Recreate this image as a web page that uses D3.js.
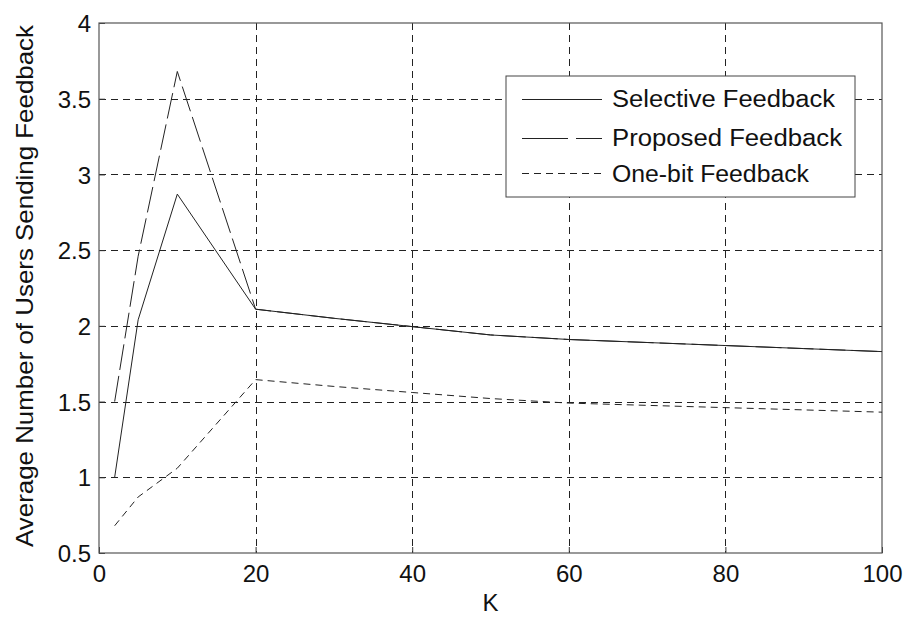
<!DOCTYPE html>
<html>
<head>
<meta charset="utf-8">
<script src="https://cdn.jsdelivr.net/npm/d3@7"></script>
<style>
  html, body { margin: 0; padding: 0; background: #fff; }
  svg { display: block; }
  text { font-family: "Liberation Sans", Arial, sans-serif; fill: #111; }
</style>
</head>
<body>
<svg id="chart" width="911" height="618"></svg>
<script>
// Number of users K
const kValues = [2, 5, 10, 20, 30, 40, 50, 60, 70, 80, 90, 100];
// Average number of users sending feedback, per scheme
const selective = [1.00, 2.04, 2.87, 2.11, 2.05, 1.995, 1.94, 1.91, 1.89, 1.87, 1.85, 1.83];
const proposed  = [1.50, 2.46, 3.68, 2.11, 2.05, 1.995, 1.94, 1.91, 1.89, 1.87, 1.85, 1.83];
const oneBit    = [0.68, 0.87, 1.06, 1.645, 1.60, 1.56, 1.52, 1.49, 1.475, 1.46, 1.445, 1.43];

const xTicks = [0, 20, 40, 60, 80, 100];
const yTicks = [0.5, 1, 1.5, 2, 2.5, 3, 3.5, 4];
const seriesNames = ["Selective Feedback", "Proposed Feedback", "One-bit Feedback"];

const svg = d3.select("#chart");
const plotL = 99, plotR = 882, plotT = 23, plotB = 553;

const x = d3.scaleLinear().domain([0, 100]).range([plotL, plotR]);
const y = d3.scaleLinear().domain([0.5, 4]).range([plotB, plotT]);

// dashed grid
const grid = svg.append("g").attr("stroke", "#222").attr("stroke-width", 1)
  .attr("stroke-dasharray", "7,5").attr("fill", "none");
grid.selectAll("line.v").data(xTicks.slice(1, -1)).join("line")
  .attr("x1", d => Math.round(x(d)) + 0.5).attr("x2", d => Math.round(x(d)) + 0.5)
  .attr("y1", plotT).attr("y2", plotB);
grid.selectAll("line.h").data(yTicks.slice(1, -1)).join("line")
  .attr("y1", d => Math.round(y(d)) + 0.5).attr("y2", d => Math.round(y(d)) + 0.5)
  .attr("x1", plotL).attr("x2", plotR);

// axes with inward ticks
const xAxis = svg.append("g").attr("transform", `translate(0,${plotB})`)
  .call(d3.axisBottom(x).tickValues(xTicks).tickSizeInner(-6).tickSizeOuter(0).tickPadding(12).tickFormat(d3.format("d")));
const yAxis = svg.append("g").attr("transform", `translate(${plotL},0)`)
  .call(d3.axisLeft(y).tickValues(yTicks).tickSizeInner(-6).tickSizeOuter(0).tickPadding(8).tickFormat(d => String(d)));
[xAxis, yAxis].forEach(a => {
  a.select(".domain").remove();
  a.selectAll(".tick line").attr("stroke", "#333");
  a.selectAll(".tick text").attr("font-size", 24).attr("font-family", "Liberation Sans, Arial, sans-serif").attr("fill", "#111");
});
xAxis.selectAll(".tick text").attr("dy", "0.71em");
yAxis.selectAll(".tick text").attr("dy", "0.36em");

// frame
svg.append("rect").attr("x", plotL).attr("y", plotT)
  .attr("width", plotR - plotL).attr("height", plotB - plotT)
  .attr("fill", "none").attr("stroke", "#555").attr("stroke-width", 1.2);

// series
const line = d3.line().x(d => x(d[0])).y(d => y(d[1]));
const styles = [
  { data: selective, dash: null },
  { data: proposed, dash: "26,6" },
  { data: oneBit, dash: "7,5" }
];
styles.forEach(s => {
  svg.append("path")
    .datum(kValues.map((k, i) => [k, s.data[i]]))
    .attr("d", line)
    .attr("fill", "none")
    .attr("stroke", "#222")
    .attr("stroke-width", 1)
    .attr("stroke-dasharray", s.dash);
});

// axis labels
svg.append("text").attr("x", (plotL + plotR) / 2).attr("y", 611)
  .attr("text-anchor", "middle").attr("font-size", 24).text("K");
svg.append("text")
  .attr("transform", `translate(33,286) rotate(-90)`)
  .attr("text-anchor", "middle").attr("font-size", 24)
  .attr("textLength", 522).attr("lengthAdjust", "spacingAndGlyphs")
  .text("Average Number of Users Sending Feedback");

// legend
const legend = svg.append("g");
legend.append("rect").attr("x", 506).attr("y", 76).attr("width", 349).attr("height", 121)
  .attr("fill", "#fff").attr("stroke", "#444").attr("stroke-width", 1);
const rowY = [99.5, 138.5, 173.5];
const baseY = [107, 146, 182];
const textW = [223, 230, 197];
styles.forEach((s, i) => {
  legend.append("line").attr("x1", 522).attr("x2", 602)
    .attr("y1", rowY[i]).attr("y2", rowY[i])
    .attr("stroke", "#222").attr("stroke-width", 1)
    .attr("stroke-dasharray", i === 1 ? "46,8,26,0" : s.dash);
  legend.append("text").attr("x", 612).attr("y", baseY[i])
    .attr("font-size", 23.5)
    .attr("textLength", textW[i]).attr("lengthAdjust", "spacingAndGlyphs")
    .text(seriesNames[i]);
});
</script>
</body>
</html>
